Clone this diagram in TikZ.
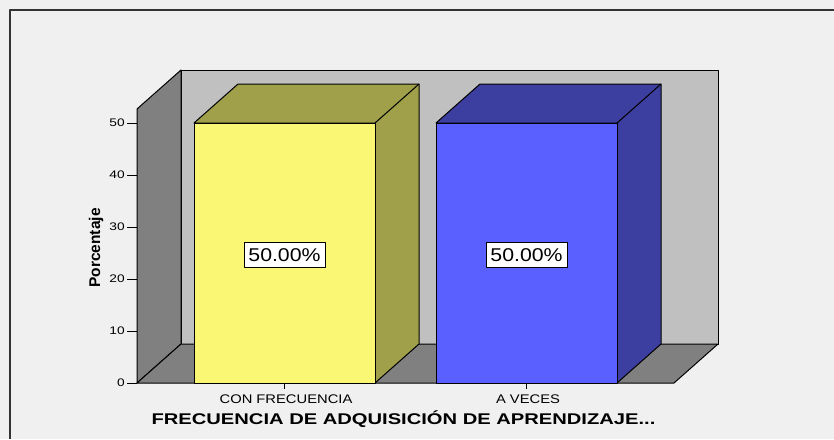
\documentclass[tikz,border=0pt]{standalone}
\usepackage{fontspec}
\setmainfont{Liberation Sans}
\usetikzlibrary{positioning}
\definecolor{paper}{HTML}{F0F0F0}
\definecolor{wallback}{HTML}{C0C0C0}
\definecolor{wallside}{HTML}{808080}
\definecolor{yfront}{HTML}{FAF775}
\definecolor{yside}{HTML}{A09F4A}
\definecolor{bfront}{HTML}{5A5FFF}
\definecolor{bside}{HTML}{3C3FA0}

\begin{document}
\begin{tikzpicture}[x=1pt,y=-1pt,line join=round,
  face/.style={draw=black,line width=1pt},
  ticklab/.style={font=\fontsize{11}{11}\selectfont,anchor=east,inner sep=0pt,xscale=1.25},
  pctlab/.style={draw=black,line width=0.8pt,fill=white,inner sep=0pt,xscale=1.15,
    minimum width=70.5pt,minimum height=25pt,font=\fontsize{18.5}{18.5}\selectfont},
  catlab/.style={font=\fontsize{12.5}{12.5}\selectfont,anchor=base,inner sep=0pt,xscale=1.18}]
% background and frame
\fill[paper] (0,0) rectangle (834,439);
\useasboundingbox (0,0) rectangle (834,439);
\draw[line width=1.3pt,black!80] (10,439) -- (10,10) -- (834,10);
% walls and floor
\draw[face,fill=wallback] (181,70) rectangle (718,344);
\draw[face,fill=wallside] (137,383) -- (137,109) -- (181,70) -- (181,344) -- cycle;
\draw[face,fill=wallside] (137,383) -- (674,383) -- (718,344) -- (181,344) -- cycle;
% y axis
\foreach \v in {0,10,...,50}{
  \draw[face] (127,383-5.2*\v) -- (137,383-5.2*\v);
  \node[ticklab] (t\v) at (125,383-5.2*\v) {\v};
}
\node[rotate=90,font=\bfseries\fontsize{15.5}{15.5}\selectfont] (ylab) at (96,248) {Porcentaje};
% bars
\foreach \x/\fc/\sc/\nm/\txt in {194/yfront/yside/conf/CON FRECUENCIA,436/bfront/bside/aveces/A VECES}{
  \draw[face,fill=\sc] (\x,123) -- (\x+44,84) -- (\x+225,84) -- (\x+225,344)
    -- (\x+181,383) -- (\x+181,123) -- cycle;
  \draw[face] (\x+181,123) -- (\x+225,84);
  \draw[face,fill=\fc] (\x,123) rectangle (\x+181,383);
  \node[pctlab] (p\nm) at (\x+90.5,255) {50.00\%};
  \draw[face] (\x+90.5,383) -- (\x+90.5,389);
  \node[catlab] (\nm) at (\x+92,403) {\txt};
}
\node[anchor=base,inner sep=0pt,xscale=1.3,font=\bfseries\fontsize{15.5}{15.5}\selectfont]
  (xlab) at (403.5,424) {FRECUENCIA DE ADQUISICIÓN DE APRENDIZAJE...};
\end{tikzpicture}
\end{document}
